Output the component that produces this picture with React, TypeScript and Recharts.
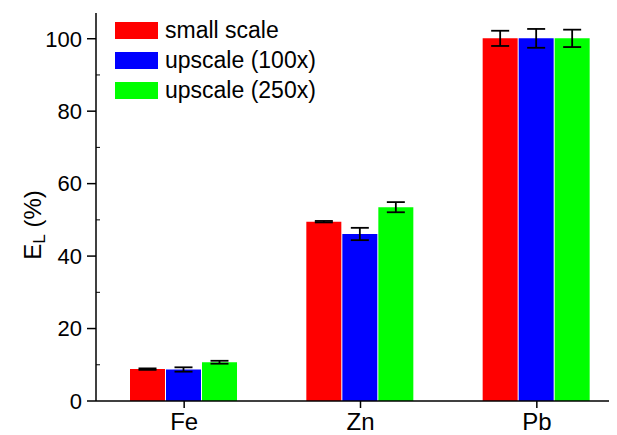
import React from "react";
import { BarChart, Bar, XAxis, YAxis, ErrorBar, Legend } from "recharts";

const elements = ["Fe", "Zn", "Pb"];
const smallScale = [8.8, 49.5, 100.1];
const smallScaleErr = [0.2, 0.2, 2.1];
const upscale100 = [8.7, 46.1, 100.1];
const upscale100Err = [0.6, 1.7, 2.6];
const upscale250 = [10.7, 53.5, 100.1];
const upscale250Err = [0.4, 1.4, 2.4];

const yTicks = [0, 20, 40, 60, 80, 100];
const yMinorTicks = [10, 30, 50, 70, 90];

const series = [
  { key: "small", name: "small scale", color: "#ff0000" },
  { key: "up100", name: "upscale (100x)", color: "#0000ff" },
  { key: "up250", name: "upscale (250x)", color: "#00ff00" },
];

const data = elements.map((el, i) => ({
  element: el,
  small: smallScale[i],
  smallErr: smallScaleErr[i],
  up100: upscale100[i],
  up100Err: upscale100Err[i],
  up250: upscale250[i],
  up250Err: upscale250Err[i],
}));

const FONT = "Arial, 'Liberation Sans', Helvetica, sans-serif";
const Y_MAX = 107.1;

function LegendBox() {
  return (
    <div style={{ fontFamily: FONT, fontSize: 23, color: "#000" }}>
      {series.map((s) => (
        <div key={s.key} style={{ display: "flex", alignItems: "center", height: 30 }}>
          <div style={{ width: 43, height: 17, background: s.color, marginRight: 7 }} />
          <span style={{ lineHeight: "23px" }}>{s.name}</span>
        </div>
      ))}
    </div>
  );
}

// rotated axis title with a subscript L
function YLabel(props: any) {
  const { viewBox } = props;
  const x = viewBox.x + 33;
  const y = viewBox.y + viewBox.height / 2 + 18;
  return (
    <text
      x={x}
      y={y}
      transform={`rotate(-90, ${x}, ${y})`}
      textAnchor="middle"
      fontFamily={FONT}
      fontSize={24}
      fill="#000"
    >
      E
      <tspan dy={4} fontSize={17}>L</tspan>
      <tspan dy={-4}> (%)</tspan>
    </text>
  );
}

export default function App() {
  return (
    <div style={{ width: 609, height: 427, overflow: "hidden" }}>
      <BarChart
        width={630}
        height={427}
        data={data}
        margin={{ top: 5, right: 13, bottom: 0, left: 0 }}
        barCategoryGap={34}
        barGap={1}
      >
        <XAxis
          dataKey="element"
          height={34}
          tickSize={7}
          tickMargin={5}
          axisLine={{ stroke: "#000", strokeWidth: 1.5 }}
          tickLine={{ stroke: "#000", strokeWidth: 1.5 }}
          tick={{ fill: "#000", fontSize: 24, fontFamily: FONT }}
        />
        <XAxis
          xAxisId="top"
          dataKey="element"
          orientation="top"
          mirror
          height={0}
          tickSize={5}
          tickFormatter={() => ""}
          axisLine={{ stroke: "#000", strokeWidth: 1.5 }}
          tickLine={{ stroke: "#000", strokeWidth: 1 }}
        />
        <YAxis
          width={88}
          domain={[0, Y_MAX]}
          ticks={yTicks}
          allowDataOverflow
          tickSize={9}
          tickMargin={5}
          axisLine={{ stroke: "#000", strokeWidth: 1.5 }}
          tickLine={{ stroke: "#000", strokeWidth: 1.5 }}
          tick={{ fill: "#000", fontSize: 22, fontFamily: FONT }}
          label={<YLabel />}
        />
        <YAxis
          yAxisId="minor"
          domain={[0, Y_MAX]}
          ticks={yMinorTicks}
          allowDataOverflow
          mirror
          axisLine={false}
          tickSize={4}
          tickFormatter={() => ""}
          tickLine={{ stroke: "#000", strokeWidth: 1 }}
        />
        <Legend
          layout="vertical"
          align="center"
          verticalAlign="middle"
          content={() => <LegendBox />}
          wrapperStyle={{ left: 107, top: 7, width: "auto" }}
        />
        {series.map((s) => (
          <Bar
            key={s.key}
            dataKey={s.key}
            name={s.name}
            fill={s.color}
            isAnimationActive={false}
          >
            <ErrorBar
              dataKey={`${s.key}Err`}
              width={9}
              stroke="#000"
              strokeWidth={1.8}
            />
          </Bar>
        ))}
      </BarChart>
    </div>
  );
}
